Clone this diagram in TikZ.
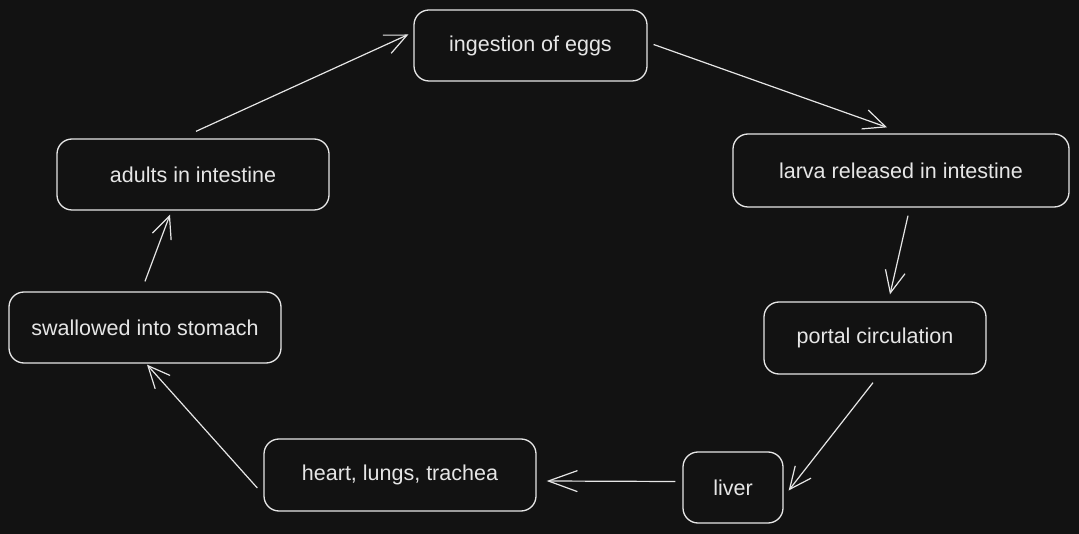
\documentclass[tikz,border=0pt]{standalone}
\usepackage{fontspec}
\setmainfont{Liberation Sans}
\usetikzlibrary{arrows.meta,calc}
\definecolor{bg}{HTML}{121212}
\definecolor{ink}{HTML}{E6E6E6}
\begin{document}
\begin{tikzpicture}[x=1pt,y=-1pt,
  stage/.style={draw=ink,line width=1.3pt,rounded corners=15pt,text=ink,
    font=\fontsize{21.5}{25}\selectfont,inner sep=0pt,minimum height=71pt},
  link/.style={draw=ink,line width=1.2pt,-{Straight Barb[length=22pt,width=20pt,line width=1.2pt]}}]
\fill[bg] (0,0) rectangle (1079,534);
\useasboundingbox (0,0) rectangle (1079,534);
\node[stage,minimum width=233pt,minimum height=71pt] (eggs) at (530.5,45.5) {ingestion of eggs};
\node[stage,minimum width=336pt,minimum height=73pt] (larva) at (901,170.5) {larva released in intestine};
\node[stage,minimum width=222pt,minimum height=72pt] (portal) at (875,338) {portal circulation};
\node[stage,minimum width=100pt,minimum height=71pt] (liver) at (733,487.5) {liver};
\node[stage,minimum width=272pt,minimum height=72pt] (heart) at (400,475) {heart, lungs, trachea};
\node[stage,minimum width=272pt,minimum height=71pt] (swallow) at (145,327.5) {swallowed into stomach};
\node[stage,minimum width=272pt,minimum height=71pt] (adults) at (193,174.5) {adults in intestine};
\draw[link] ($(eggs.east)+(6,-1)$) -- ($(larva.north)+(-14,-6)$);
\draw[link] ($(larva.south)+(7,8)$) -- ($(portal.north)+(15,-7)$);
\draw[link] ($(portal.south)+(-2,8)$) -- ($(liver.east)+(5,3)$);
\draw[link,-{Straight Barb[length=29pt,width=21pt,line width=1.2pt]}] ($(liver.west)+(-7,-6)$) -- ($(heart.east)+(10,6)$);
\draw[link] ($(heart.west)+(-6,13)$) -- ($(swallow.south)+(2,1)$);
\draw[link] ($(swallow.north)+(0,-10)$) -- ($(adults.south)+(-23,4)$);
\draw[link] ($(adults.north)+(3,-7)$) -- ($(eggs.west)+(-5,-11)$);
\end{tikzpicture}
\end{document}
